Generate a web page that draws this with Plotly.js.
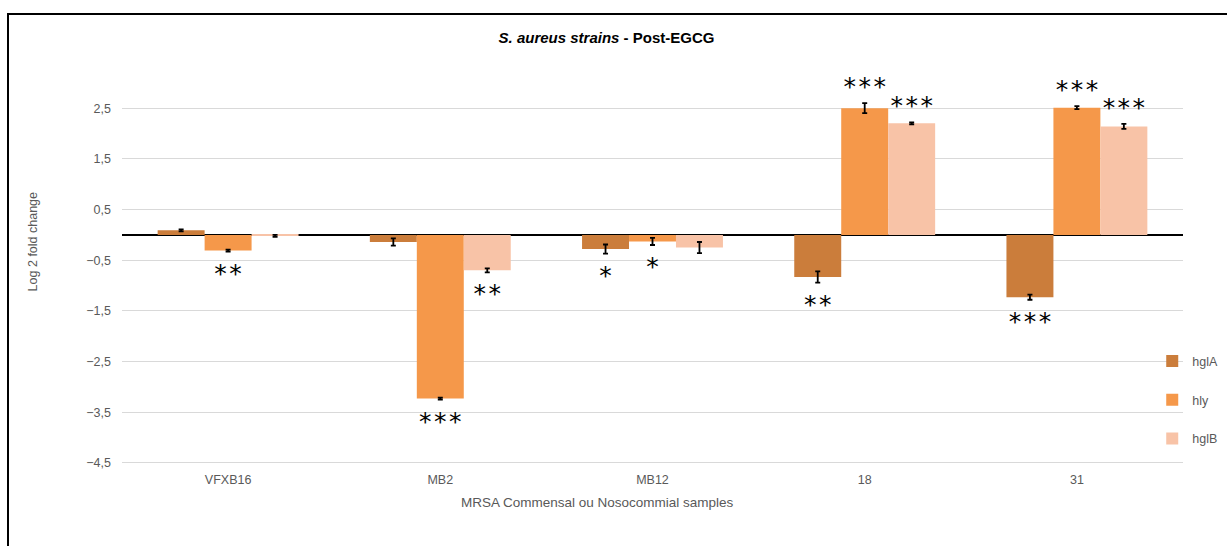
<!DOCTYPE html>
<html>
<head>
<meta charset="utf-8">
<script src="https://cdn.plot.ly/plotly-3.0.1.min.js"></script>
<style>
  html, body { margin: 0; padding: 0; background: #fff; overflow: hidden; }
  #chart { width: 1227px; height: 546px; }
  #frame { position: absolute; left: 7px; top: 13px; width: 1400px; height: 700px;
           border-top: 2.5px solid #000; border-left: 2.3px solid #000; pointer-events: none; }
</style>
</head>
<body>
<div id="chart"></div>
<div id="frame"></div>
<script>
// ---- data ----
const categories = ["VFXB16", "MB2", "MB12", "18", "31"];
const seriesNames = ["hglA", "hly", "hglB"];

const hglA = [0.09, -0.14, -0.28, -0.83, -1.23];
const hly  = [-0.31, -3.23, -0.13, 2.50, 2.51];
const hglB = [-0.02, -0.70, -0.25, 2.20, 2.14];

const hglA_err = [0.02, 0.07, 0.09, 0.11, 0.05];
const hly_err  = [0.02, 0.02, 0.07, 0.10, 0.03];
const hglB_err = [0.02, 0.04, 0.11, 0.02, 0.05];

const hglA_sig = ["", "", "*", "**", "***"];
const hly_sig  = ["**", "***", "*", "***", "***"];
const hglB_sig = ["", "**", "", "***", "***"];

const yTickVals = [2.5, 1.5, 0.5, -0.5, -1.5, -2.5, -3.5, -4.5];

// ---- styles ----
const colors = ["#CB7D3B", "#F5984A", "#F8C3A7"];
const values = [hglA, hly, hglB];
const errs = [hglA_err, hly_err, hglB_err];
const sigs = [hglA_sig, hly_sig, hglB_sig];
const GAP = 0.336;
const belowPad = 0.47, abovePad = 0.28;

const traces = [];
for (let i = 0; i < 3; i++) {
  traces.push({
    type: "bar",
    name: seriesNames[i],
    x: categories,
    y: values[i],
    legendgroup: seriesNames[i],
    marker: { color: colors[i], line: { width: 0 } },
    error_y: { type: "data", array: errs[i], visible: true, color: "#000", thickness: 1.8, width: 2.5 },
    hoverinfo: "x+y+name"
  });
}
for (let i = 0; i < 3; i++) {
  const ys = values[i].map((v, k) => v < 0 ? v - errs[i][k] - belowPad : v + errs[i][k] + abovePad);
  const txt = sigs[i].map(s => s.split("").join("\u200A"));
  traces.push({
    type: "scatter",
    mode: "text",
    x: categories,
    y: ys,
    text: txt,
    textposition: "middle center",
    textfont: { family: "DejaVu Sans", size: 25, color: "#000" },
    showlegend: false,
    hoverinfo: "skip"
  });
}

const layout = {
  width: 1227, height: 546,
  margin: { l: 122, r: 44, t: 60, b: 82, pad: 0, autoexpand: false },
  paper_bgcolor: "#fff", plot_bgcolor: "#fff",
  separators: ", ",
  barmode: "group", bargap: GAP, bargroupgap: 0,
  scattermode: "group", scattergap: GAP,
  font: { family: "Liberation Sans, Arial, sans-serif", size: 12.5, color: "#595959" },
  title: {
    text: "<b><i>S. aureus strains</i> - Post-EGCG</b>",
    font: { family: "Liberation Sans, Arial, sans-serif", size: 15, color: "#000" },
    xref: "container", x: 0.4943, xanchor: "center",
    yref: "container", y: 0.930, yanchor: "middle"
  },
  xaxis: {
    type: "category",
    showgrid: false, showline: false, zeroline: false, ticks: "",
    tickfont: { size: 12.5, color: "#595959" },
    ticklabelstandoff: 6,
    fixedrange: true
  },
  yaxis: {
    range: [-4.52, 3.45],
    tickvals: yTickVals,
    tickformat: ".1f",
    showgrid: true, gridcolor: "#D9D9D9", gridwidth: 1,
    zeroline: true, zerolinecolor: "#000", zerolinewidth: 2,
    showline: false, ticks: "",
    tickfont: { size: 12.5, color: "#595959" },
    ticklabelstandoff: 10,
    fixedrange: true
  },
  legend: {
    x: 0.971, xanchor: "left", y: 0.291, yanchor: "top",
    font: { size: 12.5, color: "#595959" },
    tracegroupgap: 19.5, bgcolor: "rgba(0,0,0,0)", traceorder: "grouped"
  },
  annotations: [
    { text: "Log 2 fold change", textangle: -90, xref: "paper", yref: "paper",
      x: -0.0839, y: 0.551, xanchor: "center", yanchor: "middle", showarrow: false,
      font: { size: 12.5, color: "#595959" } },
    { text: "MRSA Commensal ou Nosocommial samples", xref: "paper", yref: "paper",
      x: 0.448, y: -0.0965, xanchor: "center", yanchor: "middle", showarrow: false,
      font: { size: 13.5, color: "#595959" } }
  ]
};

Plotly.newPlot("chart", traces, layout, { displayModeBar: false, staticPlot: false });
</script>
</body>
</html>
